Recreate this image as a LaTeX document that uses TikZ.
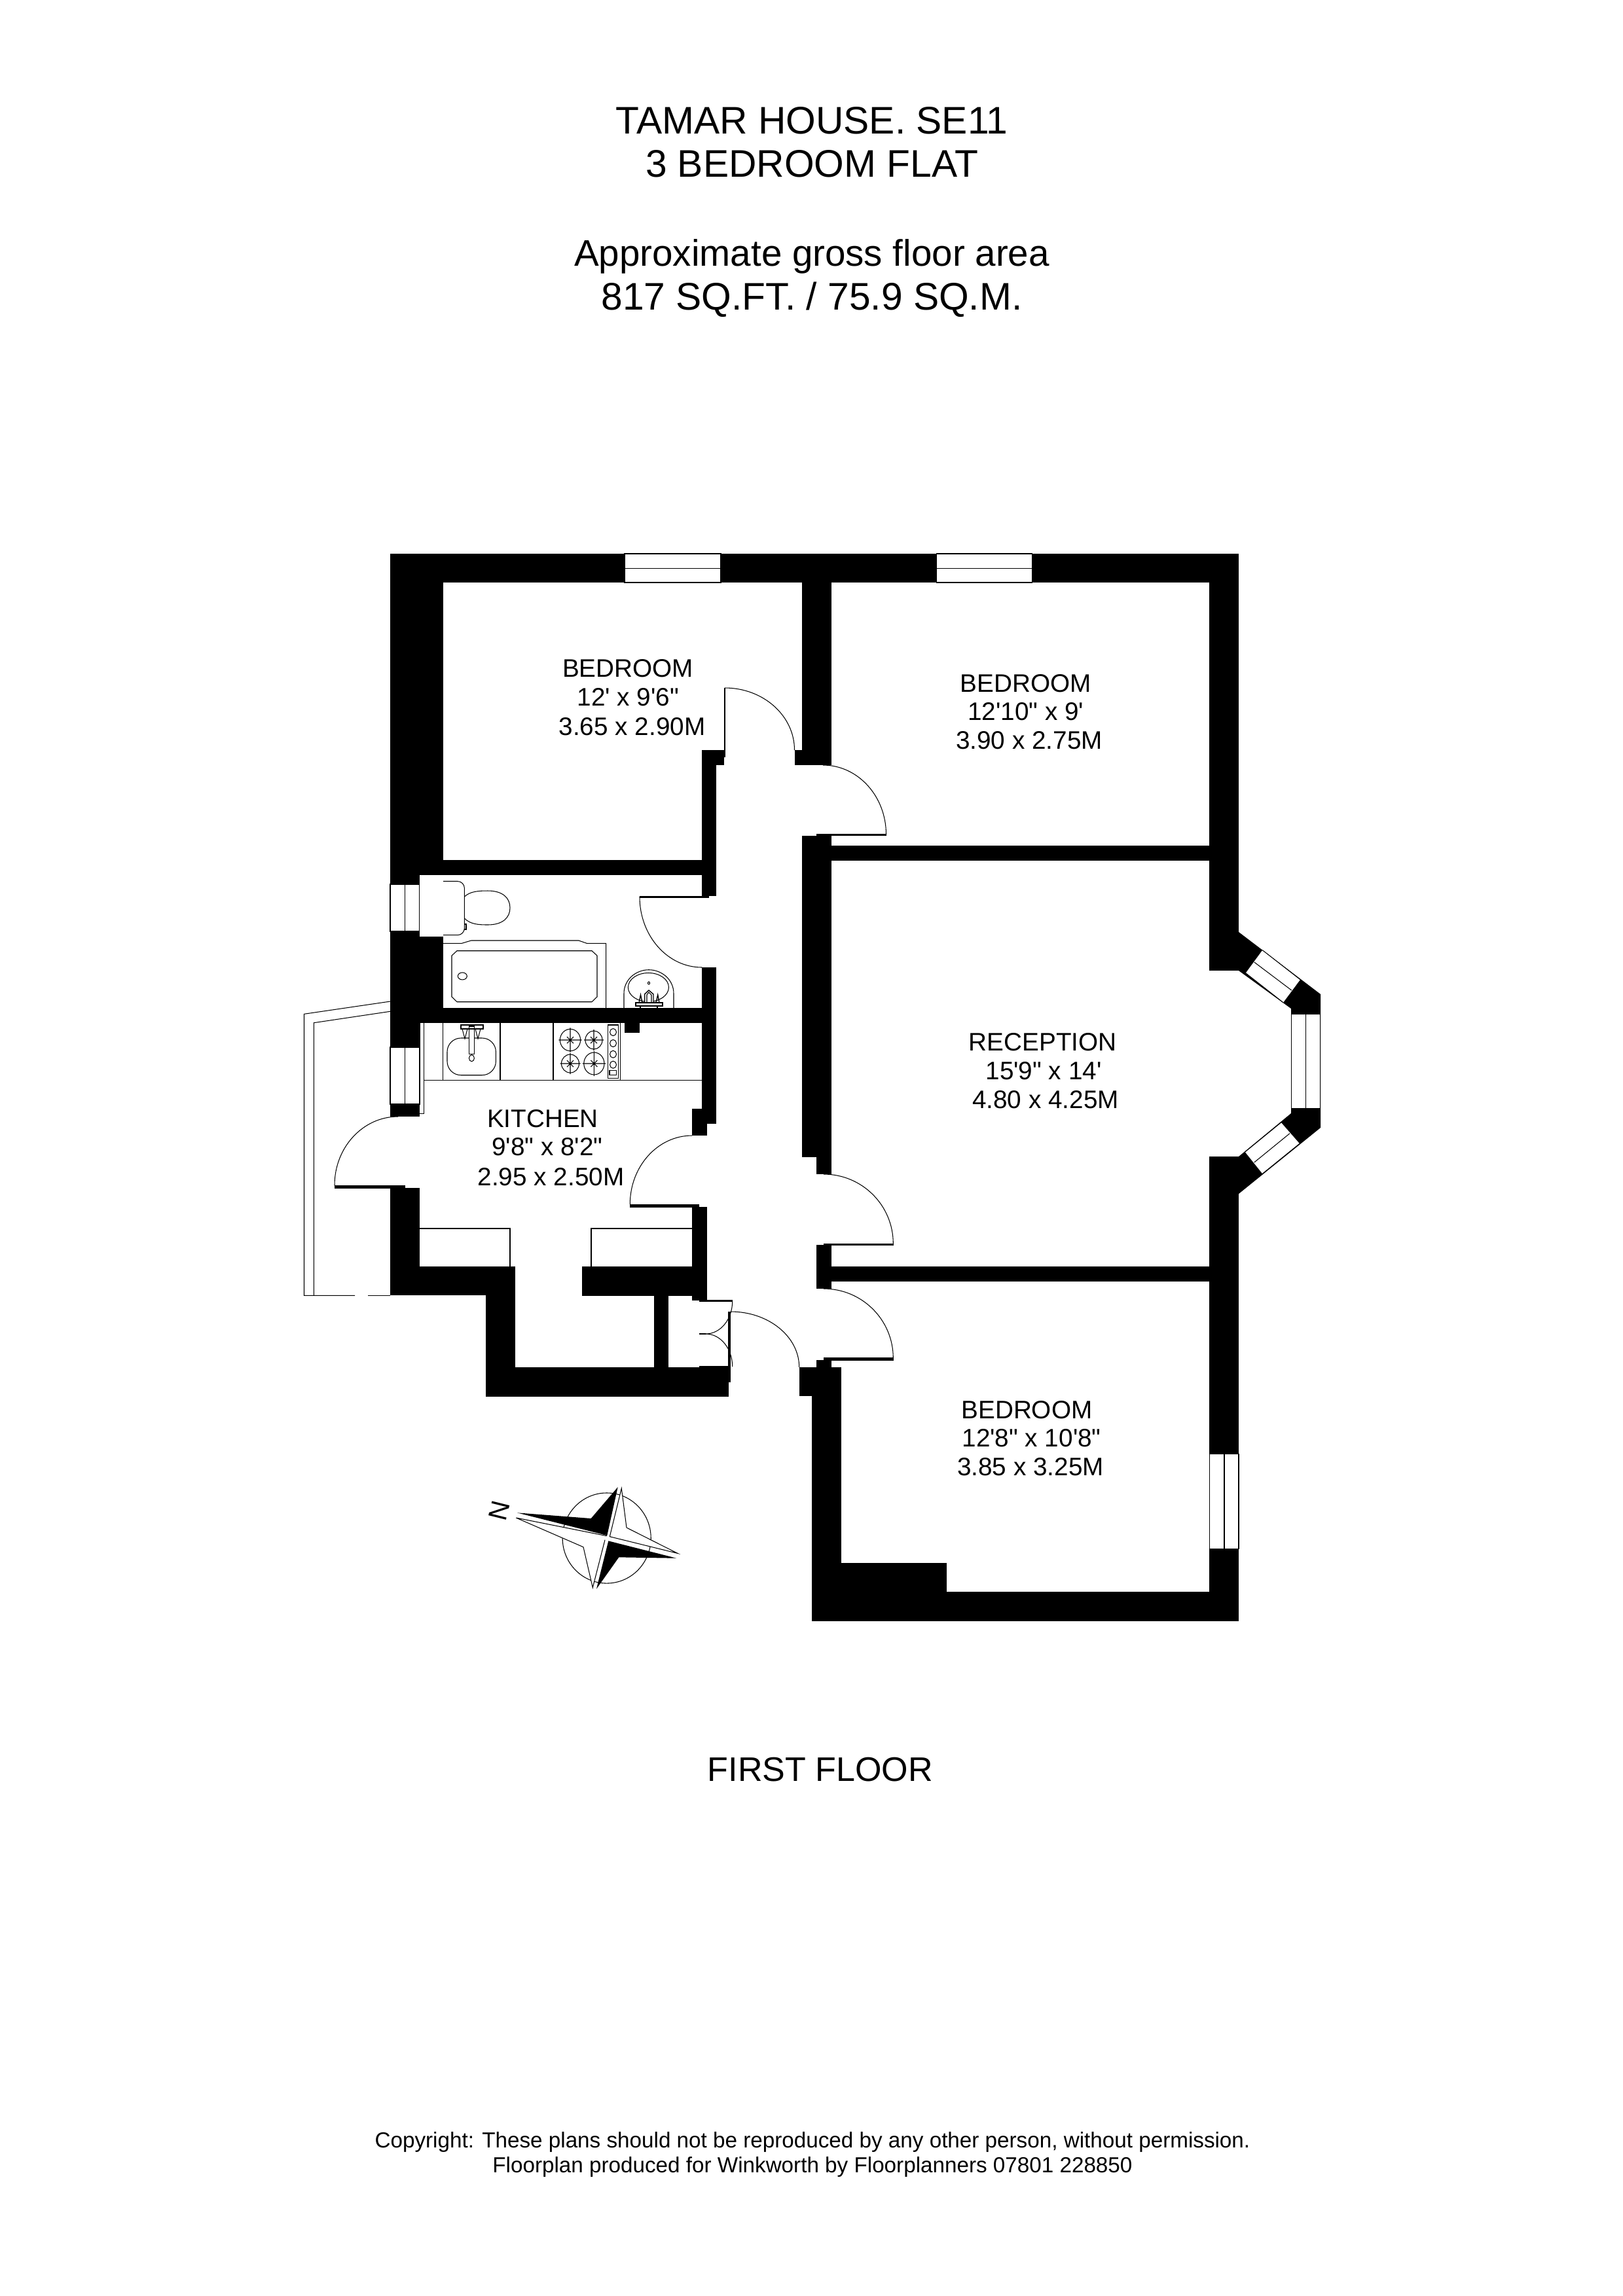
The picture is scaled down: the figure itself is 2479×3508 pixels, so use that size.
\documentclass[tikz,border=0pt]{standalone}
\usepackage{fontspec}
\newfontfamily\labelfont{Liberation Sans}
\tikzset{
  wall/.style={fill=black},
  thinline/.style={draw=black,line width=0.3pt},
  medline/.style={draw=black,line width=0.4pt},
  paneglass/.style={fill=white,draw=black,line width=0.3pt},
  roomlabel/.style={anchor=base,inner sep=0pt,font=\labelfont\fontsize{11}{11}\selectfont},
  titletext/.style={anchor=base,inner sep=0pt,font=\labelfont\fontsize{16.7}{16.7}\selectfont},
  areatext/.style={anchor=base,inner sep=0pt,font=\labelfont\fontsize{16.07}{16.07}\selectfont},
  foottext/.style={anchor=base,inner sep=0pt,font=\labelfont\fontsize{9.45}{9.45}\selectfont},
}
\newcommand{\hvarc}[4]{%
  \pgfmathsetmacro\cax{#1+.5523*(#3-#1)}%
  \pgfmathsetmacro\cby{#4-.5523*(#4-#2)}%
  \draw[thinline] (#1,#2) .. controls (\cax,#2) and (#3,\cby) .. (#3,#4);}
\newcommand{\wl}[4]{\fill[wall] (#1,#2) rectangle (#3,#4);}
\newcommand{\burner}[4]{%
  \draw[thinline] (#1,#2) ellipse [x radius=#3*0.01cm,y radius=#4*0.01cm];
  \draw[thinline] ({#1-#3-2},#2) -- ({#1+#3+2},#2) ({#1},{#2-#4-2}) -- ({#1},{#2+#4+2})
    ({#1-5},{#2-5}) -- ({#1+5},{#2+5}) ({#1-5},{#2+5}) -- ({#1+5},{#2-5});}
\begin{document}
\begin{tikzpicture}[x=0.01cm,y=-0.01cm]
\useasboundingbox (0,0) rectangle (2479,3508);
\fill[white] (0,0) rectangle (2479,3508);
% ---- outer / top
\wl{596}{846}{1892}{890}
\wl{596}{846}{677}{1350}
\wl{596}{890}{677}{1337}
% Bedroom partitions
\wl{1225}{846}{1270}{1169}
\wl{1214}{1146}{1225}{1169}
\wl{1072}{1146}{1106}{1169}
\wl{1072}{1146}{1094}{1369}
\wl{677}{1314}{1094}{1337}
\wl{1225}{1277}{1270}{1768}
\wl{1247}{1275}{1270}{1794}
\wl{1270}{1292}{1847}{1315}
\wl{1847}{846}{1892}{1483}
% bathroom
\wl{596}{1337}{641}{1351}
\wl{596}{1423}{641}{1706}
\wl{641}{1431}{677}{1540}
\wl{596}{1540}{1094}{1563}
\wl{954}{1563}{977}{1578}
\wl{1072}{1478}{1094}{1717}
\wl{1057}{1694}{1094}{1717}
\wl{1057}{1694}{1080}{1735}
% kitchen
\wl{596}{1815}{641}{1979}
\wl{596}{1935}{787}{1979}
\wl{742}{1979}{787}{2134}
\wl{742}{2089}{1113}{2134}
\wl{1113}{2087}{1116}{2112}
\wl{1068}{2087}{1116}{2089}
\wl{999}{1979}{1021}{2089}
\wl{889}{1935}{1080}{1980}
\wl{1057}{1844}{1080}{1987}
% bay walls
\wl{1847}{1767}{1892}{2476}
\fill[wall] (1892,1424) -- (2017,1519) -- (2017,1723) -- (1892,1824) -- (1892,1767)
  -- (1972,1701) -- (1972,1541) -- (1892,1483) -- cycle;
% corridor right
\wl{1247}{1902}{1270}{1969}
\wl{1270}{1935}{1847}{1958}
\wl{1247}{2078}{1270}{2089}
\wl{1221}{2089}{1285}{2133}
\wl{1240}{2133}{1285}{2477}
\wl{1240}{2432}{1892}{2477}
\wl{1285}{2388}{1446}{2432}
% door leaves
\wl{1105.5}{1051}{1107.5}{1157}
\wl{1247}{1274}{1354}{1277}
\wl{977}{1369}{1083}{1372}
\wl{511}{1811}{619}{1816}
\wl{962}{1840}{1068}{1845}
\wl{1258}{1900}{1365}{1903}
\wl{1258}{2074}{1365}{2079}
\wl{1068}{1986}{1119}{1989}
\wl{1112}{2004}{1116}{2087}
\wl{1068}{2037}{1078}{2039}
% door arcs
\hvarc{1107}{1051}{1213.5}{1146}
\hvarc{1257}{1169}{1353.5}{1275}
\hvarc{1072}{1478}{977}{1370}
\hvarc{608}{1706}{511}{1811}
\hvarc{1057}{1735}{962.3}{1840}
\hvarc{1258}{1794}{1364.3}{1900}
\hvarc{1258}{1969}{1364.3}{2075}
\hvarc{1116}{2004}{1220.7}{2089}
\hvarc{1078}{2038}{1118.7}{1988}
\hvarc{1078}{2038}{1118.7}{2088}
% windows
\draw[paneglass] (954,846) rectangle (1101,890);
\draw[thinline] (954,868.5) -- (1101,868.5);
\draw[paneglass] (1430.7,846) rectangle (1576.7,890);
\draw[thinline] (1430.7,868.5) -- (1576.7,868.5);
\draw[paneglass] (596,1351) rectangle (641,1423);
\draw[thinline] (618.6,1351) -- (618.6,1423);
\fill[white] (641,1337) rectangle (677,1431);
\draw[paneglass] (596,1600) rectangle (641,1687);
\draw[thinline] (618.6,1600) -- (618.6,1687);
\draw[paneglass] (1847.4,2221) rectangle (1892,2366);
\draw[thinline] (1870,2221) -- (1870,2366);
\draw[paneglass] (1972.3,1549) rectangle (2016.7,1694);
\draw[thinline] (1994.3,1549) -- (1994.3,1694);
\fill[white] (1928.3,1451.7) -- (1986,1496.7) -- (1960,1531.7) -- (1902.7,1486.7) -- cycle;
\draw[thinline] (1928.3,1451.7) -- (1986,1496.7) (1960,1531.7) -- (1902.7,1486.7) (1915.7,1470) -- (1972.7,1513);
\fill[white] (1901.7,1760) -- (1956.7,1715) -- (1985,1747.3) -- (1928.3,1793.3) -- cycle;
\draw[thinline] (1901.7,1760) -- (1956.7,1715) (1985,1747.3) -- (1928.3,1793.3) (1915.7,1776) -- (1970,1731.7);
% balcony
\draw[thinline] (596,1530) -- (464.5,1549.3) -- (464.5,1979.3) -- (542,1979.3);
\draw[thinline] (562.4,1979.3) -- (596,1979.3);
\draw[thinline] (596,1545.3) -- (479.3,1562.7) -- (479.3,1979.3);
% kitchen fittings
\draw[thinline] (647.6,1563) -- (647.6,1701.7) -- (641,1701.7);
\draw[thinline] (641,1563) -- (641,1600);
\draw[thinline] (647.6,1650.7) -- (1072,1650.7);
\draw[thinline] (676.6,1563) -- (676.6,1650.7) (764,1563) -- (764,1650.7);
\draw[thinline] (845,1563) -- (845,1650.7) (947.6,1563) -- (947.6,1650.7);
\draw[thinline] (641,1877) -- (779,1877) -- (779,1935);
\draw[thinline] (1057,1877) -- (903,1877) -- (903,1935);
% sink
\draw[thinline,rounded corners=6] (683,1586) rectangle (757.4,1642.7);
\fill[white] (716.8,1568) rectangle (724.4,1610.7);
\draw[thinline] (716.8,1568) rectangle (724.4,1610.7);
\draw[thinline] (720.4,1616.7) ellipse [x radius=0.04cm,y radius=0.05cm];
\draw[medline] (704,1566) rectangle (738,1572);
\draw[thinline] (706,1572) -- (710,1587) -- (714,1572) (726,1572) -- (730,1587) -- (734,1572);
% hob
\burner{871}{1589}{15.6}{16.7}
\burner{907}{1589}{13}{14}
\burner{871}{1625}{13.5}{14}
\burner{907.4}{1625}{15.6}{17}
\draw[medline] (928.4,1566) rectangle (944.5,1647.7);
\foreach \ky in {1577,1594,1610.7,1626.7}{\draw[thinline] (936.5,\ky) ellipse [x radius=0.05cm,y radius=0.055cm];}
\draw[thinline] (931,1635.7) rectangle (941.4,1642.5);
% bathroom fittings
\draw[thinline,rounded corners=3] (677,1346.5) -- (709.4,1346.5) -- (709.4,1428.7) -- (677,1428.7);
\draw[thinline] (709.4,1370) .. controls (718,1362) and (730,1361) .. (745,1361) .. controls (768,1361) and (779,1372) .. (779,1387) .. controls (779,1402) and (768,1413) .. (745,1413) .. controls (730,1413) and (718,1412) .. (709.4,1403);
\draw[thinline] (709.4,1412) rectangle (712,1420);
\draw[thinline] (677,1441.4) -- (705,1441.4) -- (719.6,1437) -- (884,1437) -- (896.6,1441.4) -- (925.7,1441.4) -- (925.7,1540);
\draw[thinline] (698,1452.7) -- (904,1452.7) -- (912,1460) -- (912,1523) -- (904,1530.7) -- (698,1530.7) -- (690,1523) -- (690,1460) -- cycle;
\draw[thinline] (706.3,1491.4) ellipse [x radius=0.07cm,y radius=0.055cm];
\draw[thinline] (953,1540) -- (953,1518) .. controls (953,1496) and (972,1481.7) .. (991,1481.7) .. controls (1010,1481.7) and (1029,1496) .. (1029,1518) -- (1029,1540);
\draw[thinline] (990.4,1508.5) ellipse [x radius=0.31cm,y radius=0.22cm];
\draw[thinline] (991,1502) ellipse [x radius=0.015cm,y radius=0.02cm];
\draw[medline] (971,1532) rectangle (1012,1537);
\fill[white] (984.6,1519) -- (991,1513) -- (998,1519) -- (998,1531) -- (984.6,1531) -- cycle;
\draw[medline] (984.6,1531) -- (984.6,1519) -- (991,1513) -- (998,1519) -- (998,1531);
\draw[thinline] (988,1531) -- (988,1520) -- (991,1516) -- (995,1520) -- (995,1531);
\draw[medline] (976,1532) -- (978.5,1520) -- (981,1532) (1002,1532) -- (1004.7,1520) -- (1007,1532);
\draw[thinline] (978,1537) -- (978,1540) (1004,1537) -- (1004,1540);
% compass
\draw[thinline] (926.7,2350) ellipse [x radius=0.675cm,y radius=0.69cm];
\fill[white] (949.3,2274) -- (957,2334) -- (1035,2373.3) -- (931.3,2347.7) -- cycle;
\draw[thinline] (949.3,2274) -- (957,2334) -- (1035,2373.3) -- (931.3,2347.7) -- cycle;
\fill[white] (788.3,2319) -- (891,2363.7) -- (905.3,2425.7) -- (924,2352.7) -- (926.7,2346.7) -- cycle;
\draw[thinline] (788.3,2319) -- (891,2363.7) -- (905.3,2425.7) -- (924,2352.7) (788.3,2319) -- (926.7,2346.7);
\fill[black] (790,2311.3) -- (902.7,2320) -- (943.7,2272) -- (927.3,2346) -- cycle;
\fill[black] (1033.3,2380.7) -- (945.3,2379.3) -- (911,2427.7) -- (929.3,2354.3) -- cycle;
\node[anchor=center,inner sep=0pt,rotate=76,font=\labelfont\fontsize{11.4}{11.4}\selectfont] (north) at (762.7,2308.3) {N};
% labels
\node[titletext] (t1) at (1240,204) {TAMAR HOUSE. SE11};
\node[titletext] (t2) at (1240,270.7) {3 BEDROOM FLAT};
\node[areatext] (t3) at (1240,406.7) {Approximate gross floor area};
\node[titletext] (t4) at (1240,473.3) {817 SQ.FT. / 75.9 SQ.M.};
\node[roomlabel] (b1a) at (959,1034) {BEDROOM};
\node[roomlabel] (b1b) at (959.4,1078.7) {12' x 9'6"};
\node[roomlabel] (b1c) at (965.5,1123) {3.65 x 2.90M};
\node[roomlabel] (b2a) at (1566.7,1057.7) {BEDROOM};
\node[roomlabel] (b2b) at (1566.7,1100.7) {12'10" x 9'};
\node[roomlabel] (b2c) at (1572,1144.3) {3.90 x 2.75M};
\node[roomlabel] (ra) at (1592.7,1605) {RECEPTION};
\node[roomlabel] (rb) at (1594,1649) {15'9" x 14'};
\node[roomlabel] (rc) at (1597,1693) {4.80 x 4.25M};
\node[roomlabel] (ka) at (829,1722.7) {KITCHEN};
\node[roomlabel] (kb) at (836,1765) {9'8" x 8'2"};
\node[roomlabel] (kc) at (841.5,1811) {2.95 x 2.50M};
\node[roomlabel] (b3a) at (1568.4,2167) {BEDROOM};
\node[roomlabel] (b3b) at (1575.6,2210) {12'8" x 10'8"};
\node[roomlabel] (b3c) at (1574,2254) {3.85 x 3.25M};
\node[anchor=base,inner sep=0pt,font=\labelfont\fontsize{14.8}{14.8}\selectfont] (ff) at (1253,2721) {FIRST FLOOR};
\node[foottext] (c1) at (1241,3281.7) {Copyright: These plans should not be reproduced by any other person, without permission.};
\node[foottext] (c2) at (1241,3319.3) {Floorplan produced for Winkworth by Floorplanners 07801 228850};
\end{tikzpicture}
\end{document}
